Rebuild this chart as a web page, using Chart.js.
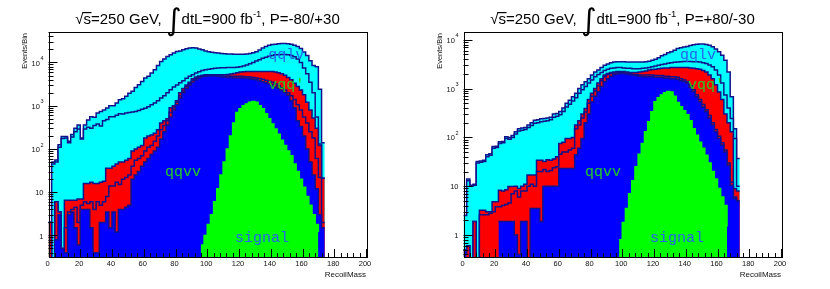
<!DOCTYPE html>
<html lang="en">
<head>
    <meta charset="UTF-8">
    <title>Recoil mass</title>
    <!-- Include Chart.js library -->
    <script src="https://cdn.jsdelivr.net/npm/chart.js"></script>
    <style>
        body { margin: 0; background: #fff; }
        canvas { position: absolute; top: 0; }
    </style>
</head>
<body>

<canvas id="padL" style="left:0px" width="415" height="289"></canvas>
<canvas id="padR" style="left:415px" width="415" height="289"></canvas>

<script>
// bin edges (GeV), 2 GeV bins
const binEdges = [0,2,4,6,8,10,12,14,16,18,20,22,24,26,28,30,32,34,36,38,40,42,44,46,48,50,52,54,56,58,60,62,64,66,68,70,72,74,76,78,80,82,84,86,88,90,92,94,96,98,100,102,104,106,108,110,112,114,116,118,120,122,124,126,128,130,132,134,136,138,140,142,144,146,148,150,152,154,156,158,160,162,164,166,168,170,172,174];

// ---- P=-80/+30 : stack tops (events/bin) ----
const qqlvTopL = [2,50,56,125,195,195,150,215,300,360,
    180,360,470,560,540,680,740,800,890,1000,
    1000,1150,1370,1450,1650,1950,2150,2650,3050,3650,
    4350,4800,5700,6800,8500,10500,12000,13800,15000,16500,
    18000,18500,19700,20800,21500,21800,21500,20500,19700,18500,
    17800,17200,16800,16500,16200,16000,15800,15700,15600,15500,
    15500,15600,15800,16200,16800,17800,19500,21500,23500,25000,
    26000,26500,27000,27500,27500,27000,26500,25000,23500,21000,
    17500,14500,11000,8500,8000,2400,140];
const qqlvInnerL = [2,45,50,110,175,180,140,190,250,290,
    170,290,320,300,350,380,340,450,480,560,
    560,600,650,640,680,700,720,740,780,830,
    880,950,1050,1150,1300,1500,1700,2000,2350,2700,
    3000,3400,3800,4300,4800,5200,5700,6100,6500,6800,
    7000,7200,7400,7500,7600,7600,7700,7700,7700,7800,
    8000,8300,8800,9400,10000,10800,11600,12500,13300,14000,
    14500,15000,15200,15300,15300,15000,14500,13500,12000,10000,
    7500,5500,3500,2000,550,130,21];
const vqqTopL = [2,0.1,6,3.5,0.5,6.5,6.5,6.5,6.5,7,
    7,16,16,17,16,16,17,18,36,36,
    40,45,50,50,55,60,90,100,110,120,
    180,200,210,230,280,400,450,500,900,1000,
    1300,2000,2500,3000,3500,4200,4600,4900,5100,5200,
    5200,5200,5200,5200,5200,5200,5300,5400,5600,5800,
    6000,6100,6200,6200,6200,6200,6200,6200,6200,6200,
    6200,6000,5800,5500,5100,4500,4000,3300,2800,2300,
    1800,1200,800,520,300,120,21];
const vqqInnerL = [2,0.1,6,3.5,0.5,1.5,3.5,4,4.5,2,
    5,6,5.5,6,4,6,5,6,8,14,
    14,17,15,20,22,25,40,55,60,70,
    90,110,120,150,200,280,350,450,700,900,
    1200,1700,2200,2800,3300,3900,4300,4700,4900,5000,
    5000,5000,5000,5000,4950,4900,4850,4800,4800,4800,
    4800,4750,4700,4600,4500,4400,4250,4100,3900,3700,
    3500,3200,2900,2600,2300,2000,1700,1400,1050,800,
    550,400,250,180,60,22,2];
const qqvvTopL = [0.7,0,0.8,3,0.5,0.4,3,3.5,1.5,0.6,
    4,4,4,1.5,0.4,0.4,2,2,3.5,1.5,
    3.5,1.2,4,4,4.5,5,20,25,30,40,
    50,60,75,90,110,170,250,360,550,800,
    1050,1500,2000,2500,3000,3500,4000,4400,4700,4800,
    4900,4900,4850,4800,4700,4600,4500,4450,4400,4400,
    4400,4350,4300,4200,4100,4000,3800,3600,3400,3200,
    3000,2700,2500,2250,2000,1750,1300,900,450,330,
    200,100,50,25,12,3,1.5];
const signalL = [0,0,0,0,0,0,0,0,0,0,
    0,0,0,0,0,0,0,0,0,0,
    0,0,0,0,0,0,0,0,0,0,
    0,0,0,0,0,0,0,0,0,0,
    0,0,0,0,0,0,0,0,0.6,1,
    1.8,3,6,12,25,50,100,200,400,700,
    850,1000,1100,1200,1250,1200,1000,850,650,500,
    380,290,220,160,120,90,70,45,30,20,
    13,8,5,3,1.8,1.2,0];

// ---- P=+80/-30 ----
const qqlvTopR = [2.5,14,10.5,11,32,33,34,44,46,65,
    66,81,82,103,100,110,130,150,155,160,
    180,200,225,230,240,245,250,260,300,310,
    340,400,500,580,680,800,1000,1200,1380,1600,
    1900,2200,2400,2700,3000,3200,3400,3500,3550,3550,
    3550,3500,3500,3500,3500,3500,3500,3550,3650,3800,
    4000,4300,4700,5000,5400,5700,6100,6600,6900,7100,
    7300,7600,7900,8100,8200,8200,8000,7700,7200,6500,
    5700,4800,3800,2200,680,150,37];
const qqlvInnerR = [2.5,13,10,10.5,30,31,32,40,43,60,
    62,75,78,95,92,100,118,135,140,145,
    160,175,195,200,210,215,220,230,260,270,
    290,340,420,480,560,650,800,950,1100,1300,
    1500,1750,1950,2150,2350,2500,2600,2650,2700,2700,
    2650,2600,2600,2550,2550,2550,2600,2650,2700,2800,
    2900,3000,3100,3200,3300,3400,3450,3500,3550,3600,
    3600,3600,3550,3550,3500,3400,3250,3050,2800,2400,
    1900,1300,740,400,245,95,10];
const vqqTopR = [0.5,0.6,0.3,1.9,0.1,3.2,3.2,3,3,4.8,
    4.8,8.3,8,8.5,9.8,9.8,10,9,10,11,
    17,17,17,34,34,32,35,34,36,40,
    75,80,95,95,100,180,220,300,390,600,
    800,1000,1300,1600,1900,2050,2150,2200,2250,2250,
    2250,2200,2150,2150,2150,2200,2250,2300,2400,2450,
    2500,2550,2600,2650,2650,2700,2700,2700,2700,2700,
    2700,2650,2600,2550,2500,2350,2200,1900,1600,1200,
    850,600,300,200,130,9,8];
const vqqInnerR = [0.5,0.6,0.3,1.9,0.1,2.6,2.6,2.6,2.8,3,
    3.8,3.8,4,4.2,4.5,7,8,6,8,8,
    10,11,10,20,20,22,20,21,24,25,
    45,50,50,55,60,150,180,250,330,500,
    700,900,1150,1450,1750,1950,2050,2100,2150,2150,
    2100,2050,2000,1950,1950,1900,1900,1900,1900,1900,
    1850,1850,1850,1800,1800,1750,1750,1700,1600,1500,
    1400,1150,950,750,600,470,370,280,200,145,
    105,78,55,30,12,6,5];
const qqvvTopR = [0.5,0.4,0,0.4,0,0,0,0,0,0,
    0,1.9,1.9,1.9,1.9,1.9,1,0.4,1.9,1.9,
    0.3,3.5,3.5,3.5,1.9,10,10,10,10,10,
    23,23,23,23,23,44,60,95,200,300,
    540,700,860,1100,1380,1600,1800,1950,2000,2050,
    2050,2000,1950,1900,1850,1800,1750,1750,1750,1750,
    1700,1700,1700,1650,1650,1600,1600,1550,1450,1400,
    1300,1050,860,680,540,420,335,250,180,130,
    95,70,50,27,10.5,5.6,5];
const signalR = [0,0,0,0,0,0,0,0,0,0,
    0,0,0,0,0,0,0,0,0,0,
    0,0,0,0,0,0,0,0,0,0,
    0,0,0,0,0,0,0,0,0,0,
    0,0,0,0,0,0,0,0,0,0.8,
    1.8,3.5,7,13,25,45,75,130,210,335,
    540,650,740,820,870,850,700,520,425,350,
    290,220,150,111,80,60,43,30,20,14,
    9,6,4,1.5,0,0,0];

// y tick labels (decades)
const decadeLabels = ['1', '10', '10^2', '10^3', '10^4'];

const navy = '#12128c';

// turn a list of bin contents into a closed step outline
function histSet(vals, color, edge) {
    const pts = vals.map((v, i) => ({ x: binEdges[i], y: v }));
    const end = binEdges[vals.length];
    pts.push({ x: end, y: vals[vals.length - 1] }, { x: end, y: 0 });
    return {
        data: pts,
        stepped: true,
        fill: 'start',
        backgroundColor: color,
        borderColor: edge,
        borderWidth: 1.5,
        pointRadius: 0
    };
}

function drawTitle(ctx, cx, base, pol) {
    const f = '15px "Liberation Sans", Arial, sans-serif';
    const parts = [
        { t: '\u221A', font: f, dy: 0 },
        { t: 's=250 GeV, ', font: f, dy: 0, bar: true },
        { t: '\u222B', font: '30px "DejaVu Sans", sans-serif', dy: 6 },
        { t: 'dtL=900 fb', font: f, dy: 0 },
        { t: '-1', font: '9.5px "Liberation Sans", Arial, sans-serif', dy: -7 },
        { t: ', P=' + pol, font: f, dy: 0 }
    ];
    let w = 0;
    parts.forEach(p => { ctx.font = p.font; p.w = ctx.measureText(p.t).width; w += p.w; });
    let xx = cx - w / 2;
    ctx.fillStyle = '#000';
    ctx.textAlign = 'left';
    ctx.textBaseline = 'alphabetic';
    parts.forEach(p => {
        ctx.font = p.font;
        ctx.fillText(p.t, xx, base + p.dy);
        if (p.bar) {
            ctx.font = f;
            const sw = ctx.measureText('s').width;
            ctx.fillRect(xx - 1, base - 12, sw + 1.5, 1.2);
        }
        xx += p.w;
    });
}

// ROOT-like frame, ticks, labels and text notes
const rootPad = {
    id: 'rootPad',
    afterDatasetsDraw(chart, args, o) {
        const { ctx, chartArea: a, scales: { x, y } } = chart;
        ctx.save();

        ctx.font = '15px "Liberation Mono", "DejaVu Sans Mono", monospace';
        ctx.textAlign = 'left';
        ctx.textBaseline = 'middle';
        o.notes.forEach(n => {
            ctx.fillStyle = n.color;
            ctx.fillText(n.text, x.getPixelForValue(n.x), y.getPixelForValue(n.y));
        });

        ctx.strokeStyle = '#000';
        ctx.lineWidth = 1;
        ctx.strokeRect(Math.round(a.left) + 0.5, Math.round(a.top) + 0.5,
            Math.round(a.right - a.left), Math.round(a.bottom - a.top));

        ctx.beginPath();
        for (let v = 0; v <= 200; v += 4) {
            const px = Math.round(x.getPixelForValue(v)) + 0.5;
            ctx.moveTo(px, a.bottom);
            ctx.lineTo(px, a.bottom - (v % 20 ? 4 : 8));
        }
        for (let d = -1; d <= 5; d++) {
            for (let m = 1; m <= 9; m++) {
                const v = m * Math.pow(10, d);
                if (v < y.min || v > y.max) continue;
                const py = Math.round(y.getPixelForValue(v)) + 0.5;
                ctx.moveTo(a.left, py);
                ctx.lineTo(a.left + (m === 1 ? 9 : 5), py);
            }
        }
        ctx.stroke();

        // x labels
        ctx.fillStyle = '#111';
        ctx.font = '7.5px "Liberation Sans", Arial, sans-serif';
        ctx.textAlign = 'center';
        ctx.textBaseline = 'top';
        for (let v = 0; v <= 200; v += 20) {
            ctx.fillText(String(v), x.getPixelForValue(v) - 1, a.bottom + 3);
        }

        // y labels
        decadeLabels.forEach((lab, d) => {
            const v = Math.pow(10, d);
            if (v > y.max) return;
            const py = y.getPixelForValue(v);
            const [b, e] = lab.split('^');
            ctx.textBaseline = 'middle';
            ctx.textAlign = 'right';
            let rx = a.left - 5;
            if (e) {
                ctx.font = '5.5px "Liberation Sans", Arial, sans-serif';
                ctx.fillText(e, rx, py - 4);
                rx -= ctx.measureText(e).width + 0.5;
            }
            ctx.font = '7.5px "Liberation Sans", Arial, sans-serif';
            ctx.fillText(b, rx, py + 1);
        });

        // axis titles
        ctx.font = '8px "Liberation Sans", Arial, sans-serif';
        ctx.textAlign = 'right';
        ctx.textBaseline = 'alphabetic';
        ctx.fillText('RecoilMass', a.right, a.bottom + 20);
        ctx.save();
        ctx.translate(27, a.top + 1);
        ctx.rotate(-Math.PI / 2);
        ctx.font = '7.5px "Liberation Sans", Arial, sans-serif';
        ctx.fillText('Events/Bin', 0, 0);
        ctx.restore();

        drawTitle(ctx, 207.5, 24, o.pol);
        ctx.restore();
    }
};

function makePad(id, pol, ymin, ymax, sets, notes) {
    const ctx = document.getElementById(id).getContext('2d');
    return new Chart(ctx, {
        type: 'line',
        data: {
            datasets: [
                histSet(sets[5], '#00ff00', '#00ff00'),
                histSet(sets[4], '#0000ff', navy),
                histSet(sets[3], '#ff0000', navy),
                histSet(sets[2], '#ff0000', navy),
                histSet(sets[1], '#00ffff', navy),
                histSet(sets[0], '#00ffff', navy)
            ]
        },
        options: {
            responsive: false,
            animation: false,
            events: [],
            layout: { padding: { left: 48.5, right: 49, top: 32, bottom: 32 } },
            scales: {
                x: { type: 'linear', min: 0, max: 200, display: false },
                y: { type: 'logarithmic', min: ymin, max: ymax, bounds: 'data', display: false }
            },
            plugins: {
                legend: { display: false },
                tooltip: { enabled: false },
                rootPad: { pol: pol, notes: notes }
            }
        },
        plugins: [rootPad]
    });
}

makePad('padL', '-80/+30', 0.318, 50700,
    [qqlvTopL, qqlvInnerL, vqqTopL, vqqInnerL, qqvvTopL, signalL],
    [
        { text: 'qqlv', x: 138.4, y: 14800, color: '#2266ee' },
        { text: "vqq'", x: 138.4, y: 3000, color: '#22cc22' },
        { text: 'qqvv', x: 73.4, y: 29, color: '#22cc22' },
        { text: 'signal', x: 117.5, y: 0.87, color: '#2266ee' }
    ]);

makePad('padR', '+80/-30', 0.354, 14450,
    [qqlvTopR, qqlvInnerR, vqqTopR, vqqInnerR, qqvvTopR, signalR],
    [
        { text: 'qqlv', x: 136.4, y: 4900, color: '#2266ee' },
        { text: "vqq'", x: 141.4, y: 1180, color: '#22cc22' },
        { text: 'qqvv', x: 76.5, y: 19.5, color: '#22cc22' },
        { text: 'signal', x: 117.5, y: 0.87, color: '#2266ee' }
    ]);
</script>
</body>
</html>
